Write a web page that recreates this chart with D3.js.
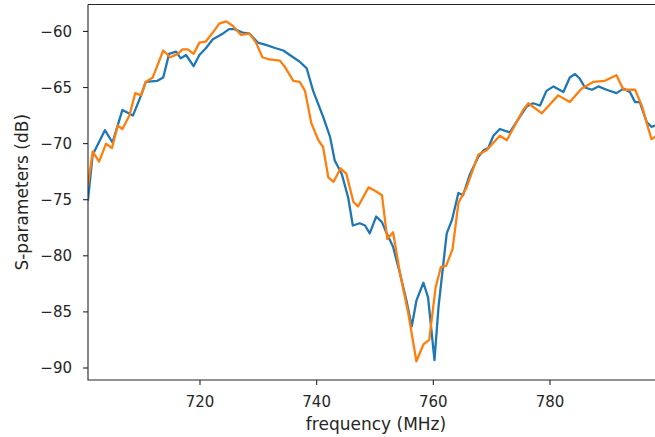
<html>

<head>
    <meta charset="utf-8">
    <script src="https://d3js.org/d3.v7.min.js"></script>
    <style>
        body { margin: 0; background: white; }
        text { font-family: "DejaVu Sans", sans-serif; fill: #262626; }
        .spine { stroke: #262626; stroke-width: 1.1px; fill: none; }
        .trace { fill: none; stroke-width: 2.3px; stroke-linejoin: round; stroke-linecap: square; }
    </style>
</head>

<body>
    <svg id="chart" width="655" height="437"></svg>
    <script>
        // blue trace (MHz, dB)
        const freqA = [700.8, 701.6, 703.7, 705.0, 706.7, 708.5, 709.9, 710.7, 712.7, 713.7, 714.7, 715.9, 716.7, 717.6, 718.9, 719.9,
            721.0, 722.2, 723.9, 725.0, 725.9, 727.3, 728.5, 729.9, 731.3, 733.0, 734.3, 735.4, 737.1, 738.3, 739.4, 741.1,
            742.3, 743.1, 744.3, 745.4, 746.2, 747.4, 748.3, 749.1, 750.2, 751.2, 752.0, 753.1, 754.3, 755.4, 756.3, 757.1,
            758.3, 759.1, 760.2, 760.9, 762.3, 763.2, 764.3, 765.1, 766.3, 767.7, 768.6, 769.4, 770.3, 771.4, 773.1, 774.6,
            776.0, 777.1, 778.3, 779.4, 780.6, 782.3, 783.4, 784.3, 785.1, 786.0, 787.2, 788.3, 789.7, 791.4, 792.6, 793.7,
            794.6, 795.4, 796.6, 797.4, 798.0];
        const sA = [-75.0, -71.0, -68.8, -69.9, -67.0, -67.5, -65.7, -64.5, -64.4, -64.1, -62.0, -61.8, -62.4, -62.1, -63.1, -62.1,
            -61.5, -60.7, -60.2, -59.8, -59.8, -60.1, -60.2, -61.0, -61.2, -61.5, -61.7, -62.1, -62.7, -63.3, -65.3, -67.6,
            -69.4, -71.5, -72.7, -74.8, -77.3, -77.1, -77.3, -78.0, -76.5, -77.0, -78.0, -79.2, -81.6, -84.0, -86.3, -84.0,
            -82.4, -83.7, -89.3, -84.5, -78.0, -76.8, -74.4, -74.6, -72.7, -71.2, -70.6, -70.4, -69.3, -68.7, -69.0, -67.8,
            -66.7, -66.4, -66.6, -65.3, -64.9, -65.4, -64.1, -63.8, -64.2, -65.0, -65.2, -64.9, -65.2, -65.5, -65.1, -65.4,
            -66.3, -66.3, -68.1, -68.5, -68.4];

        // orange trace (MHz, dB)
        const freqB = [700.8, 701.6, 702.7, 703.9, 704.9, 705.9, 706.7, 707.9, 708.9, 709.9, 710.7, 711.9, 713.7, 714.9, 716.2, 717.0,
            717.9, 718.9, 719.9, 721.0, 722.2, 723.3, 724.5, 725.6, 727.0, 728.5, 729.6, 730.7, 731.9, 733.7, 734.6, 736.0,
            737.1, 738.0, 739.1, 740.3, 741.1, 742.0, 742.9, 744.1, 745.1, 746.3, 747.1, 748.9, 750.0, 751.2, 752.1, 753.1,
            754.3, 755.7, 757.1, 758.3, 759.3, 760.4, 761.3, 762.2, 763.3, 764.3, 765.7, 767.7, 769.1, 771.4, 772.6, 775.4,
            776.3, 778.6, 781.4, 783.4, 785.4, 787.4, 789.4, 791.4, 792.6, 794.6, 795.8, 796.6, 797.4, 798.0];
        const sB = [-73.7, -70.7, -71.6, -70.0, -70.4, -68.4, -68.7, -67.5, -65.5, -65.7, -64.5, -64.1, -61.7, -62.3, -62.0, -61.6,
            -61.6, -62.0, -61.0, -60.9, -60.1, -59.3, -59.1, -59.5, -60.3, -60.2, -61.0, -62.3, -62.5, -62.6, -63.2, -64.4,
            -64.5, -65.3, -68.2, -69.7, -70.3, -73.0, -73.4, -72.2, -72.7, -75.2, -75.6, -73.9, -74.2, -74.6, -78.5, -77.9,
            -81.6, -85.1, -89.4, -87.9, -87.5, -82.8, -81.0, -80.9, -79.4, -75.3, -73.9, -71.0, -70.6, -69.3, -69.7, -67.0,
            -66.4, -67.3, -65.7, -66.3, -65.1, -64.5, -64.4, -63.9, -65.2, -65.2, -66.7, -68.2, -69.6, -69.4];

        const xTicks = [720, 740, 760, 780];
        const yTicks = [-60, -65, -70, -75, -80, -85, -90];

        const svg = d3.select("#chart");
        const left = 88, topY = 4.5, bottom = 380;

        // the axes run past the right edge of the picture
        const x = d3.scaleLinear().domain([700.8, 800]).range([left, left + 99.2 * 5.833]);
        const y = d3.scaleLinear().domain([-57.6, -91.07]).range([topY, bottom]);

        svg.append("defs").append("clipPath").attr("id", "clip")
            .append("rect").attr("x", left).attr("y", topY).attr("width", 700).attr("height", bottom - topY);

        const line = d3.line().x(d => x(d[0])).y(d => y(d[1]));
        const plot = svg.append("g").attr("clip-path", "url(#clip)");

        plot.append("path").datum(d3.zip(freqA, sA))
            .attr("class", "trace").attr("stroke", "#1f77b4").attr("d", line);
        plot.append("path").datum(d3.zip(freqB, sB))
            .attr("class", "trace").attr("stroke", "#ff7f0e").attr("d", line);

        // spines
        svg.append("path").attr("class", "spine")
            .attr("d", `M${left},${topY}H700M${left},${topY}V${bottom}H700`);

        // x axis
        const xa = svg.append("g");
        xa.selectAll("line").data(xTicks).join("line")
            .attr("x1", d => x(d)).attr("x2", d => x(d))
            .attr("y1", bottom).attr("y2", bottom + 5)
            .attr("stroke", "#262626").attr("stroke-width", 1.1);
        xa.selectAll("text").data(xTicks).join("text")
            .attr("x", d => x(d)).attr("y", bottom + 27)
            .attr("text-anchor", "middle").attr("font-size", 15)
            .text(d => d);

        // y axis
        const ya = svg.append("g");
        ya.selectAll("line").data(yTicks).join("line")
            .attr("x1", left - 5).attr("x2", left)
            .attr("y1", d => y(d)).attr("y2", d => y(d))
            .attr("stroke", "#262626").attr("stroke-width", 1.1);
        ya.selectAll("text").data(yTicks).join("text")
            .attr("x", left - 16).attr("y", d => y(d)).attr("dy", "0.36em")
            .attr("text-anchor", "end").attr("font-size", 15)
            .text(d => String(d).replace("-", "\u2212"));

        svg.append("text").attr("x", 376).attr("y", 430)
            .attr("text-anchor", "middle").attr("font-size", 17)
            .text("frequency (MHz)");

        svg.append("text").attr("transform", `translate(28,${(topY + bottom) / 2}) rotate(-90)`)
            .attr("text-anchor", "middle").attr("font-size", 17)
            .text("S-parameters (dB)");
    </script>
</body>

</html>
